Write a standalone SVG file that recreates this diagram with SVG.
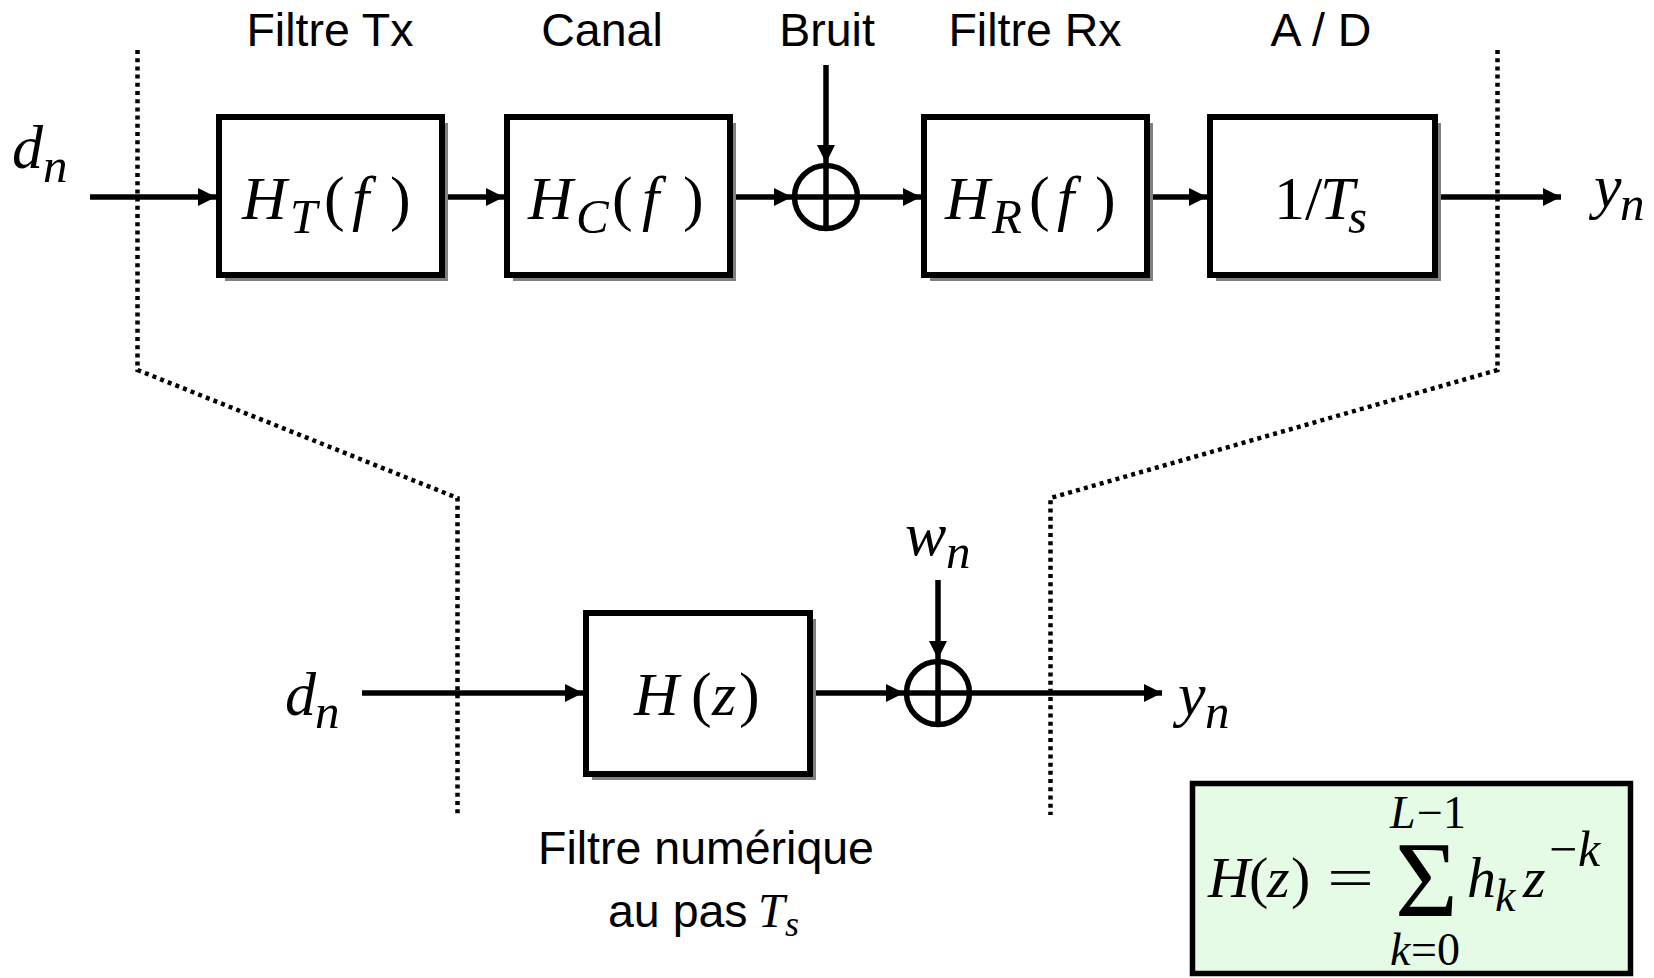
<svg xmlns="http://www.w3.org/2000/svg" width="1654" height="978" viewBox="0 0 1654 978">
  <defs>
    <marker id="arrow" markerUnits="userSpaceOnUse" markerWidth="20" markerHeight="20" refX="18" refY="9" orient="auto">
      <path d="M0,0 L18,9 L0,18 Z" fill="#000"/>
    </marker>
  </defs>
  <style>
    .lbl { font-family: "Liberation Sans", Arial, sans-serif; font-size: 46.5px; fill: #000; text-anchor: middle; }
    .lbl-start { font-family: "Liberation Sans", Arial, sans-serif; font-size: 46.5px; fill: #000; text-anchor: start; }
    .m { font-family: "Liberation Serif", "Times New Roman", serif; font-size: 62px; fill: #000; }
    .it { font-style: italic; }
    .sb { font-size: 49px; }
    .box { fill: #fff; stroke: #000; stroke-width: 6; }
    .shadow { fill: #808080; }
    .wire { fill: none; stroke: #000; stroke-width: 5.5; marker-end: url(#arrow); }
    .sum { fill: #fff; stroke: #000; stroke-width: 5.5; }
    .cross { stroke: #000; stroke-width: 5.5; }
    .dots { fill: none; stroke: #000; stroke-width: 4.5; stroke-dasharray: 4 4.2; }
    .formula { fill: #e6fbe6; stroke: #000; stroke-width: 5.5; }
    .f { font-family: "Liberation Serif", "Times New Roman", serif; font-size: 58px; fill: #000; }
    .fs { font-size: 46px; }
    .fsup { font-size: 50px; }
  </style>

  <rect width="1654" height="978" fill="#fff"/>

  <!-- dotted boundaries projecting the analog chain onto the discrete model -->
  <g id="boundaries">
    <path class="dots" d="M137.5,50 V370 L457.5,498 V815"/>
    <path class="dots" d="M1497.5,50 V370 L1050.5,498 V815"/>
  </g>

  <!-- stage titles -->
  <g id="titles">
    <text class="lbl" x="330" y="46">Filtre Tx</text>
    <text class="lbl" x="602" y="46">Canal</text>
    <text class="lbl" x="827" y="46">Bruit</text>
    <text class="lbl" x="1035" y="46">Filtre Rx</text>
    <text class="lbl" x="1321" y="46">A / D</text>
  </g>

  <!-- connectors -->
  <g id="connectors">
    <line class="wire" x1="90" y1="197" x2="216" y2="197"/>
    <line class="wire" x1="444" y1="197" x2="504" y2="197"/>
    <line class="wire" x1="731" y1="197" x2="792" y2="197"/>
    <line class="wire" x1="826" y1="65" x2="826" y2="163"/>
    <line class="wire" x1="860" y1="197" x2="921" y2="197"/>
    <line class="wire" x1="1147" y1="197" x2="1207" y2="197"/>
    <line class="wire" x1="1437" y1="197" x2="1561" y2="197"/>

    <line class="wire" x1="362" y1="693" x2="583" y2="693"/>
    <line class="wire" x1="812" y1="693" x2="904" y2="693"/>
    <line class="wire" x1="938" y1="580" x2="938" y2="659"/>
    <line class="wire" x1="972" y1="693" x2="1162" y2="693"/>
  </g>

  <!-- input / output symbols, top chain -->
  <g id="dn-top">
    <text class="m it" x="12" y="168">d<tspan class="sb" x="43" y="182">n</tspan></text>
  </g>
  <g id="yn-top">
    <text class="m it" x="1594" y="207">y<tspan class="sb" x="1620" y="220">n</tspan></text>
  </g>

  <!-- transmit filter -->
  <g id="filtre-tx">
    <rect class="shadow" x="225" y="123" width="223" height="158"/>
    <rect class="box" x="219" y="117" width="223" height="158"/>
    <text class="m" y="219"><tspan class="it" x="242">H</tspan><tspan class="it sb" x="290" y="233">T</tspan><tspan x="324" y="219">(</tspan><tspan class="it" x="352">f</tspan><tspan x="390">)</tspan></text>
  </g>

  <!-- channel -->
  <g id="canal">
    <rect class="shadow" x="513" y="123" width="223" height="158"/>
    <rect class="box" x="507" y="117" width="223" height="158"/>
    <text class="m" y="219"><tspan class="it" x="528">H</tspan><tspan class="it sb" x="576" y="233">C</tspan><tspan x="612" y="219">(</tspan><tspan class="it" x="642">f</tspan><tspan x="683">)</tspan></text>
  </g>

  <!-- noise summation -->
  <g id="somme-bruit">
    <circle class="sum" cx="826" cy="197" r="31.5"/>
    <line class="cross" x1="794.5" y1="197" x2="857.5" y2="197"/>
    <line class="cross" x1="826" y1="165.5" x2="826" y2="228.5"/>
  </g>

  <!-- receive filter -->
  <g id="filtre-rx">
    <rect class="shadow" x="930" y="123" width="223" height="158"/>
    <rect class="box" x="924" y="117" width="223" height="158"/>
    <text class="m" y="219"><tspan class="it" x="945">H</tspan><tspan class="it sb" x="992" y="233">R</tspan><tspan x="1029" y="219">(</tspan><tspan class="it" x="1057">f</tspan><tspan x="1095">)</tspan></text>
  </g>

  <!-- sampler -->
  <g id="ad">
    <rect class="shadow" x="1216" y="123" width="225" height="158"/>
    <rect class="box" x="1210" y="117" width="225" height="158"/>
    <text class="m" y="219"><tspan x="1274">1/</tspan><tspan class="it" x="1320">T</tspan><tspan class="it sb" x="1348" y="233">s</tspan></text>
  </g>

  <!-- equivalent discrete model -->
  <g id="dn-bottom">
    <text class="m it" x="285" y="715">d<tspan class="sb" x="315" y="728">n</tspan></text>
  </g>

  <g id="filtre-numerique">
    <rect class="shadow" x="592" y="619" width="224" height="161"/>
    <rect class="box" x="586" y="613" width="224" height="161"/>
    <text class="m" y="715"><tspan class="it" x="634">H</tspan><tspan x="691">(</tspan><tspan class="it" x="712">z</tspan><tspan x="739">)</tspan></text>
  </g>

  <g id="somme-wn">
    <circle class="sum" cx="938" cy="693" r="31.5"/>
    <line class="cross" x1="906.5" y1="693" x2="969.5" y2="693"/>
    <line class="cross" x1="938" y1="661.5" x2="938" y2="724.5"/>
  </g>

  <g id="wn">
    <text class="m it" x="905" y="555">w<tspan class="sb" x="946" y="568">n</tspan></text>
  </g>

  <g id="yn-bottom">
    <text class="m it" x="1178" y="715">y<tspan class="sb" x="1205" y="728">n</tspan></text>
  </g>

  <g id="legende-filtre">
    <text class="lbl" x="706" y="864">Filtre numérique</text>
    <text class="lbl-start" x="608" y="927">au pas</text>
    <text class="m it" x="758" y="927" style="font-size:48px">T<tspan x="785" y="936" style="font-size:36px">s</tspan></text>
  </g>

  <!-- FIR transfer function -->
  <g id="formule">
    <rect class="formula" x="1192.5" y="783.5" width="438" height="190"/>
    <text class="f" y="897"><tspan class="it" x="1208">H</tspan><tspan x="1249">(</tspan><tspan class="it" x="1267">z</tspan><tspan x="1291">)</tspan><tspan x="1327" textLength="47" lengthAdjust="spacingAndGlyphs">=</tspan></text>
    <text class="f fs" x="1390" y="828"><tspan class="it">L</tspan><tspan x="1417">−1</tspan></text>
    <text class="f" x="1395" y="916" style="font-size:108px">Σ</text>
    <text class="f fs" x="1390" y="965"><tspan class="it">k</tspan><tspan x="1411">=0</tspan></text>
    <text class="f" y="897"><tspan class="it" x="1467">h</tspan><tspan class="it fs" x="1495" y="911">k</tspan><tspan class="it" x="1523" y="897">z</tspan><tspan class="fsup" x="1549" y="866">−</tspan><tspan class="it fsup" x="1578">k</tspan></text>
  </g>
</svg>
